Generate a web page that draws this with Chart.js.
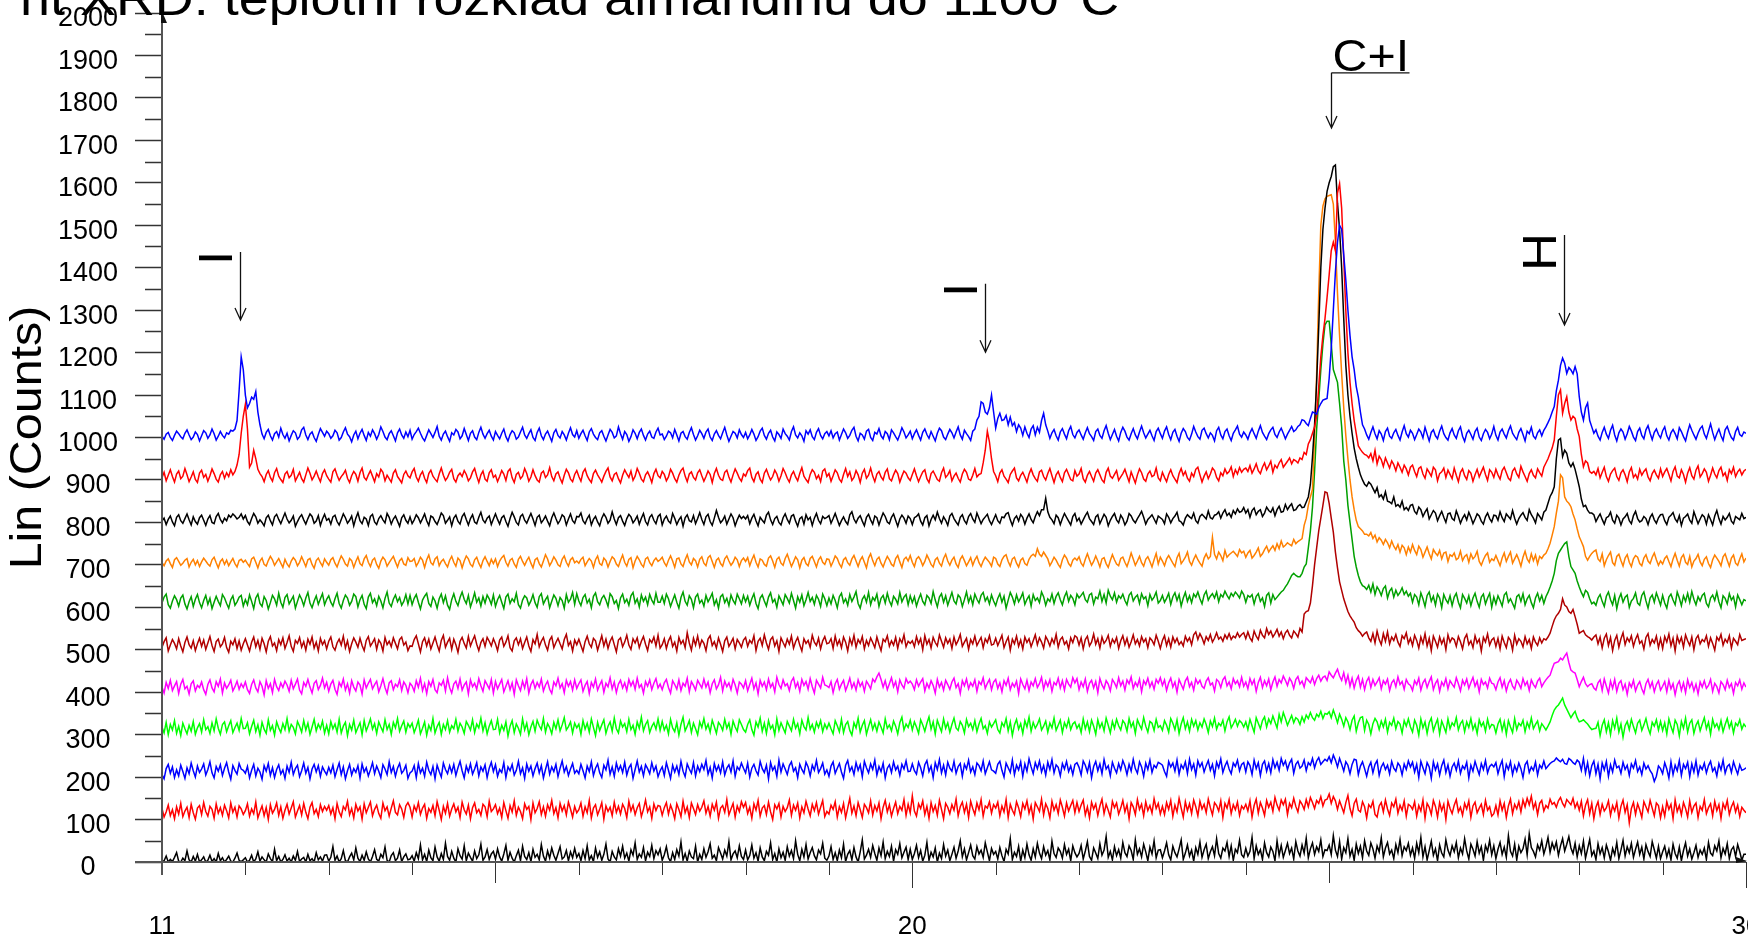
<!DOCTYPE html>
<html>
<head>
<meta charset="utf-8">
<script src="https://cdn.jsdelivr.net/npm/chart.js@4.4.0/dist/chart.umd.min.js"></script>
<style>
html,body{margin:0;padding:0;background:#fff;overflow:hidden}
canvas{display:block}
</style>
</head>
<body>
<canvas id="xrd" width="1748" height="937"></canvas>
<script>
// Scan settings: 2θ from 11° to 30° in 0.025° steps
const start2Theta = 11;
const step2Theta = 0.025;

// Baseline offsets of the stacked patterns (counts)
const baselines = [1000, 900, 800, 700, 600, 500, 400, 300, 200, 100, 0];
const lineColors = ['#0000ff', '#ff0000', '#000000', '#ff8000', '#00a000', '#b00000', '#ff00ff', '#00ff00', '#0000ff', '#ff0000', '#000000'];

// Counts above each baseline, one row per degree of 2θ (40 steps)
const counts1000 = [
3,-4,8,12,0,-7,5,15,9,2,-3,10,18,6,-5,1,13,7,-8,4,16,11,-2,6,20,9,-6,3,14,5,-1,11,8,17,15,20,40,110,190,160,
100,70,80,95,90,108,60,30,8,-3,12,19,4,-6,9,14,1,22,7,-2,10,-8,5,16,11,-4,2,18,24,6,-5,8,13,0,-9,7,21,12,3,15,
9,-2,4,17,11,-6,0,13,23,8,2,-10,6,15,-3,10,19,5,-7,12,3,18,9,-4,7,25,14,1,-5,9,16,4,-8,11,20,6,-2,13,2,17,
-4,7,14,22,10,-1,-8,5,18,9,0,12,26,3,-6,8,15,2,-9,11,6,19,13,-3,4,21,7,-7,10,16,1,-5,12,24,8,-2,9,17,3,-6,
14,5,-3,10,20,2,-8,7,16,11,-4,1,13,24,6,-2,9,18,0,-7,12,22,4,-5,8,15,3,-9,11,19,5,-1,14,6,-6,10,23,7,1,16,
-2,9,17,4,-7,13,21,8,0,-5,11,16,3,-8,6,19,12,-1,4,25,9,-4,14,7,-9,2,18,10,-3,12,20,5,-6,8,15,1,-2,13,22,6,
8,-5,3,15,11,-1,19,6,-8,10,14,2,-4,12,23,7,-6,4,17,9,-2,13,20,1,-7,8,16,5,-3,11,24,6,-9,3,14,10,-1,18,7,0,
12,-3,6,19,8,-7,2,15,22,5,-4,10,17,1,-8,13,7,-2,20,9,3,-6,14,25,6,-1,11,4,-9,16,8,18,2,-5,12,21,5,-3,9,14,
4,16,-1,9,13,-6,7,20,11,-2,5,17,24,3,-8,10,6,-4,15,19,0,-7,12,8,21,4,-3,14,9,-5,18,11,2,-6,7,23,13,-1,6,15,
-3,9,18,5,-6,12,20,7,-2,14,3,-8,10,22,16,1,-5,8,19,11,-1,13,25,6,-4,17,9,2,-7,15,20,41,50,84,80,60,55,70,100,60,
22,45,57,40,42,52,30,48,28,35,14,30,22,5,25,10,0,20,28,6,24,12,40,57,30,15,-2,11,19,4,-6,13,21,8,-3,16,26,7,-1,12,
18,6,-4,11,23,9,2,-7,14,20,5,-2,16,28,10,-5,7,19,3,-8,12,24,15,1,-6,9,21,6,-3,13,27,11,-1,8,17,4,-7,14,22,9,
-2,15,25,7,-5,12,19,3,-9,10,21,14,0,-6,8,26,13,2,-4,17,22,9,-1,11,5,-8,16,24,6,-3,14,20,4,-7,10,18,27,8,1,13,
6,-4,11,21,9,-2,15,28,12,3,-5,9,18,24,7,0,13,22,10,-3,8,17,26,14,18,26,30,42,40,33,28,45,60,58,55,70,80,88,90,92,
139,210,300,390,460,500,490,430,370,300,240,190,160,120,95,60,30,20,6,-4,12,25,9,-3,16,8,-7,14,22,3,-2,11,19,5,-6,13,28,9,1,17,
10,-5,7,20,13,-1,24,8,-8,12,18,4,-3,15,27,9,0,-6,11,21,6,-2,16,25,3,-9,10,17,7,-4,14,22,1,-7,9,19,12,-3,8,26,
5,-6,13,20,8,-1,16,27,10,2,-5,12,21,7,-8,15,9,24,3,-3,11,18,4,17,25,35,46,60,73,110,135,170,187,175,151,165,159,150,167,150,
96,60,41,70,81,40,25,10,18,3,-6,12,24,8,-2,17,29,6,-8,11,20,13,-4,9,26,15,1,-7,14,22,5,-3,18,28,10,-5,12,20,7,-1,
16,25,4,-6,11,19,9,-3,23,14,2,-8,13,30,17,6,-4,10,21,27,8,-2,15,32,12,-5,9,20,4,-7,18,26,11,0,-6,14,24,7,3,13,
10];

const counts900 = [
5,18,-2,11,24,8,-5,14,21,3,9,27,12,-4,7,19,1,-6,16,23,6,13,-3,10,26,15,2,-5,12,20,4,17,8,24,12,20,35,60,110,150,
178,120,30,40,70,50,25,15,8,-4,13,22,6,-3,17,27,9,1,-6,14,20,5,11,25,-2,8,18,3,-5,12,28,16,0,9,21,7,-4,15,24,10,
2,-5,19,26,11,-1,8,14,23,4,-6,10,20,13,-3,17,28,6,0,12,22,9,-4,15,7,25,18,-2,11,3,-5,16,24,8,1,-7,13,21,10,5,
19,27,7,-3,12,20,4,-6,15,23,9,2,-4,14,28,11,-1,6,18,25,3,-5,10,16,8,22,13,-2,5,19,27,9,-6,12,21,2,-3,17,24,6,
11,-4,8,22,14,-1,20,26,5,-6,13,18,3,9,27,15,-3,7,24,10,0,-5,16,21,6,12,29,8,-2,14,19,4,-7,11,25,17,2,-4,13,22,
8,-3,18,26,10,1,-6,15,23,12,4,-5,9,20,28,7,-2,13,17,3,-7,11,24,14,6,21,-1,9,27,16,2,-4,12,19,8,-6,15,25,10,5,
20,13,-2,7,25,16,3,-5,11,22,28,9,-4,14,19,6,0,17,24,10,-3,8,21,13,-6,15,27,11,2,-1,18,23,7,-5,12,26,16,4,-3,14,
9,22,28,6,-4,13,19,2,-6,16,25,11,0,8,23,14,-3,10,27,17,4,-5,12,20,7,-2,15,29,9,1,-6,13,24,18,3,11,-4,21,26,8,
15,-3,10,24,17,2,-5,13,27,8,19,-1,6,22,12,-6,16,25,4,11,28,9,-4,14,20,7,0,18,26,3,-2,12,23,15,-5,9,21,16,5,-1,
13,26,10,-4,8,19,24,3,-6,15,21,11,1,-3,17,28,6,12,22,-2,9,16,4,-5,14,25,18,2,-1,11,27,7,13,15,40,70,115,90,50,20,
10,-4,16,24,9,2,-6,13,21,28,5,-2,11,18,7,-5,14,26,12,3,-3,19,23,8,0,15,27,10,-6,12,20,6,-4,17,25,13,1,-2,22,9,
14,27,3,-5,11,20,8,-3,16,24,12,0,-6,18,28,9,4,13,22,-1,7,15,25,10,-4,19,6,-7,12,26,17,2,-3,14,21,8,11,28,5,-2,
18,6,-4,13,24,10,2,-6,15,27,11,20,4,-3,16,8,25,30,12,-5,9,19,3,14,28,22,6,-2,17,10,26,15,20,31,8,24,14,29,18,25,
28,20,34,16,26,38,22,15,30,40,24,33,44,18,35,28,40,48,30,37,44,52,38,48,45,40,52,48,65,60,85,95,110,125,150,220,290,340,380,430,
483,540,560,540,676,698,640,520,398,300,230,180,140,110,80,72,65,60,58,52,62,45,70,38,56,48,32,52,40,28,45,36,22,40,30,18,35,26,12,30,
35,20,8,27,31,14,4,26,18,9,30,24,-2,15,19,28,6,23,13,3,28,11,-4,18,26,10,1,22,16,-3,12,25,7,19,30,13,-1,24,18,6,
25,12,2,22,30,17,4,-1,21,28,14,6,32,19,8,-3,15,24,11,5,26,17,9,30,40,50,63,75,94,150,200,212,157,180,196,160,141,150,145,120,
102,60,31,45,40,20,16,20,12,27,5,18,30,8,-3,14,22,28,8,-1,17,24,12,-4,19,29,6,13,2,25,11,20,26,7,-2,15,23,12,4,26,
8,19,27,13,-2,20,31,9,5,24,13,-5,16,29,10,2,23,33,7,15,26,18,-3,11,28,14,5,22,30,10,17,-1,24,15,30,8,19,25,12,21,
25];

const counts800 = [
3,10,-5,7,15,1,-8,12,18,4,-2,9,20,6,-6,13,2,-4,11,17,5,-7,8,16,0,-3,14,21,7,-1,10,4,17,12,20,15,8,12,20,8,
16,2,-5,9,21,13,-2,6,0,-8,11,17,4,-6,13,19,7,-3,10,22,8,-1,5,15,-9,2,12,18,6,-4,9,20,14,-2,3,16,-7,8,19,5,
9,-4,13,17,2,-6,7,20,11,-2,5,15,-8,10,23,4,-3,12,8,-7,14,19,1,-5,9,16,6,-1,21,12,-4,8,15,3,-9,11,18,5,-2,13,
-3,6,18,11,-1,9,20,4,-7,15,12,2,-5,8,22,16,-2,5,13,-8,10,17,3,-4,14,21,7,-6,9,18,1,-3,12,24,6,-1,10,15,-5,8,
20,7,-4,11,16,2,-9,9,24,13,0,-6,14,19,5,-2,10,21,8,-7,12,17,-1,6,15,3,-8,11,22,9,-3,5,18,13,-6,8,20,4,-2,14,
13,22,4,-3,9,17,-6,7,14,1,-8,10,20,12,-2,5,25,8,-5,11,16,3,-7,9,19,13,-1,6,15,-4,10,21,2,-6,12,18,5,-3,14,19,
-6,8,15,3,-2,21,10,-5,6,13,-9,11,18,4,1,16,-3,9,23,7,-5,13,19,2,-7,10,28,12,-1,5,15,-4,8,20,11,-8,6,17,9,14,
8,16,-3,10,19,4,-8,12,5,-1,17,24,6,-5,9,14,0,-6,11,20,7,-2,15,18,3,-9,9,13,-4,18,6,12,-7,10,21,5,-3,14,9,12,
16,-2,9,21,7,-7,4,13,2,-5,18,25,8,-1,10,16,3,-8,12,19,6,-4,15,11,-6,9,22,14,1,-3,12,20,5,-9,8,17,10,-2,15,9,
-5,11,14,20,3,-6,11,16,-8,7,17,6,24,9,-2,13,5,-7,15,21,9,1,-6,12,18,4,-3,14,21,8,0,22,10,-3,7,13,19,4,-5,7,
18,4,-2,13,11,20,23,6,-7,9,15,3,19,12,-4,10,20,7,-1,14,25,16,30,30,57,25,12,6,-3,17,11,-5,9,21,12,3,-6,14,21,3,
10,-4,6,16,24,9,2,-5,13,18,-3,8,19,12,-8,5,14,21,6,-1,17,9,-6,3,21,15,5,-1,9,17,26,12,-4,7,12,18,8,-2,15,11,
7,-3,20,12,-1,9,15,24,4,1,-6,10,18,13,9,22,4,-2,14,19,14,8,27,11,8,17,19,25,10,22,30,16,22,12,28,20,32,24,26,35,
22,30,12,28,34,18,26,30,14,22,36,28,24,34,16,30,38,24,26,42,30,38,44,28,30,38,42,35,36,48,60,90,154,230,330,460,600,690,740,780,
800,815,838,842,752,690,600,480,370,300,250,210,175,150,130,112,100,90,85,95,90,80,70,82,60,65,55,72,50,48,44,60,38,42,36,50,30,35,28,40,
42,26,20,36,30,14,24,32,8,18,28,22,4,16,26,12,0,20,22,9,5,27,14,-2,10,18,6,24,12,-3,8,20,15,3,-4,13,22,9,1,17,
16,5,25,11,2,20,14,8,28,10,-4,9,17,23,12,5,30,18,10,-1,21,14,6,24,29,45,61,70,84,150,194,198,155,170,163,140,131,140,125,105,
84,55,37,40,29,22,22,18,2,12,20,7,-4,11,14,24,5,-2,17,10,-6,8,13,21,4,-3,16,26,9,1,4,14,9,-5,12,20,6,-2,11,18,
19,4,-5,12,17,23,8,1,16,-7,10,14,20,5,-2,25,11,-3,8,18,13,-4,18,7,-6,15,28,9,-4,14,6,12,21,3,-3,14,10,6,21,9,
12];

const counts700 = [
5,-2,9,14,3,-6,12,17,8,-1,4,11,15,-5,6,13,0,10,-4,7,16,9,2,-3,12,18,5,-7,8,14,1,11,-2,7,15,3,-5,10,13,6,
11,3,-4,14,18,6,-7,9,16,1,-3,10,20,12,-1,7,15,4,-6,13,2,-5,9,17,11,-2,6,19,8,-4,12,15,1,-8,10,16,5,-3,14,6,
-1,12,17,4,-5,9,21,13,2,-3,15,10,-6,8,19,3,-2,14,22,6,-4,11,16,1,-8,9,18,12,-3,5,13,20,7,-5,10,15,2,-1,17,8,
9,15,-3,6,18,11,-6,12,23,5,0,14,19,-2,8,13,3,-5,11,20,6,-3,16,10,-7,9,21,14,1,-4,12,18,4,-6,10,19,8,-2,13,3,
14,-4,9,17,22,6,-3,11,15,2,-6,13,20,8,-1,10,18,4,-7,12,16,3,-5,9,24,14,-2,7,19,11,0,-4,13,21,6,-3,12,17,5,9,
4,13,18,-2,7,15,9,-6,12,21,3,-1,16,10,-5,8,19,14,2,-4,11,23,6,-3,13,17,-7,9,20,12,1,-5,14,18,5,-2,10,16,8,12,
18,5,-3,11,21,9,-6,14,16,2,-4,12,24,7,0,15,10,-5,13,19,4,-2,17,22,8,-6,11,16,3,-3,14,21,9,-1,6,18,12,-4,10,16,
8,17,-2,12,23,6,-5,14,11,1,-3,16,21,9,-6,13,18,4,-1,15,25,10,-4,7,19,12,-7,11,17,3,-2,15,20,8,-5,12,19,6,1,14,
13,-3,8,21,15,2,-6,12,17,5,-1,14,22,9,-4,11,19,6,-7,16,26,10,-2,13,18,4,-5,9,20,12,1,-3,15,22,7,-6,13,18,9,22,
6,-4,14,19,11,-2,8,23,13,1,-5,12,17,4,-3,15,25,9,-1,11,18,2,-6,13,21,10,-2,7,17,-1,12,20,5,-4,9,18,12,6,-3,18,
15,2,-4,12,20,24,8,-3,14,18,4,-5,11,16,3,-1,13,21,25,20,38,25,20,30,22,14,-2,7,18,11,1,-6,12,23,16,3,-3,11,16,11,
19,4,-3,13,26,12,-1,8,21,9,-5,14,17,3,-6,10,24,12,2,-2,15,18,6,-4,11,28,14,-1,9,20,5,-3,13,19,8,-5,12,27,2,18,
9,-2,14,22,13,4,-4,17,27,3,10,18,30,8,-1,13,23,12,4,-3,16,26,14,20,65,25,14,30,22,10,34,18,24,28,32,26,20,36,28,32,
18,28,34,16,22,30,40,20,26,36,44,30,38,45,34,50,38,56,42,46,52,48,45,60,50,55,58,62,93,110,140,160,178,300,450,640,800,845,862,868,
870,872,850,760,640,540,450,370,304,250,200,160,130,105,90,85,80,72,72,68,76,62,70,54,64,58,48,60,52,40,56,44,36,48,30,46,40,24,42,30,
48,34,24,44,36,18,30,42,26,14,36,28,22,34,14,28,30,8,24,20,28,12,16,32,10,20,24,6,26,14,20,32,8,-1,12,22,28,6,14,10,
22,10,-2,16,28,8,20,30,4,14,24,12,-3,18,32,14,6,26,10,23,2,20,15,23,27,38,51,70,90,122,150,212,205,160,150,145,137,120,106,85,
66,55,43,20,11,20,27,32,35,14,8,26,-2,12,22,30,5,-1,20,25,10,-3,16,24,6,-4,14,22,18,3,-2,16,24,9,3,18,28,12,-1,9,
2,15,21,8,-4,14,27,11,-3,17,24,6,1,20,-5,9,15,25,7,-2,13,19,3,-6,12,23,16,8,-2,19,26,11,-3,16,23,4,-1,14,26,7,
16];

const counts600 = [
10,24,31,6,-2,15,27,18,3,22,29,8,-4,13,25,2,19,30,11,-1,16,28,7,21,-3,12,26,14,4,30,22,9,-2,18,27,5,13,24,28,3,
18,6,29,14,-3,22,31,9,2,25,16,-4,11,28,20,5,33,12,0,23,30,8,17,26,-2,14,29,19,4,22,35,10,-1,15,27,7,20,32,6,19,
27,12,3,20,33,9,-2,16,29,22,5,14,31,25,1,18,28,7,-3,24,33,11,20,4,26,15,-1,21,36,10,2,19,29,13,23,5,14,30,8,28,
6,21,30,12,-4,17,26,33,9,2,24,15,-2,20,31,11,27,5,-5,18,32,14,4,23,36,19,9,28,1,16,34,12,22,3,25,10,29,20,7,29,
2,18,28,12,-3,24,31,9,20,13,33,6,-2,17,27,22,5,15,30,11,0,25,32,8,18,26,-1,14,29,21,4,23,16,-2,30,12,19,35,7,32,
15,4,23,30,10,19,-1,26,34,13,6,21,28,17,2,32,25,9,16,-3,22,31,11,19,5,27,35,10,20,1,29,14,24,6,30,17,8,33,12,12,
26,9,31,20,2,16,29,12,-2,23,36,14,5,27,19,-1,24,31,10,17,3,28,13,22,33,6,18,-2,25,30,11,21,4,29,16,8,31,20,8,28,
13,26,5,20,32,9,-3,22,29,15,3,24,34,12,19,0,27,17,6,30,21,10,33,16,-2,25,12,29,4,18,35,14,23,7,28,19,2,31,20,4,
22,8,28,16,-1,25,33,11,20,5,30,14,24,37,9,-2,19,27,12,35,6,23,16,31,2,21,28,10,33,15,4,26,19,8,35,13,24,30,6,27,
11,25,3,19,31,14,6,28,22,9,37,17,1,24,32,12,27,5,20,35,15,8,29,23,2,18,36,12,26,6,31,19,10,28,35,15,24,8,29,15,
4,21,32,12,26,-2,17,35,24,8,29,13,22,34,7,19,27,3,30,16,22,11,36,25,5,20,14,31,9,26,34,18,6,25,36,14,28,21,6,31,
22,28,35,18,12,29,33,8,24,20,38,14,30,10,40,26,18,34,12,27,21,31,16,6,28,35,15,24,29,9,32,20,25,4,30,17,24,36,10,16,
28,12,21,33,7,25,34,16,30,3,22,35,14,27,11,31,24,36,20,8,29,38,17,26,32,22,36,13,30,24,38,28,20,33,26,36,30,22,38,30,
12,28,24,30,8,26,32,14,22,2,28,34,10,30,18,24,30,36,40,48,55,65,75,80,75,72,72,80,95,102,140,180,236,320,420,488,560,620,665,674,
674,620,560,545,530,480,425,345,300,240,200,160,120,95,75,60,51,48,42,52,36,55,30,48,40,28,44,50,22,38,45,24,40,28,35,46,30,38,26,33,
12,30,24,6,34,20,2,28,36,14,26,5,31,22,-1,30,18,10,27,4,24,33,12,-1,30,21,10,27,4,22,33,14,0,24,31,8,22,33,0,24,
8,27,16,3,29,35,12,20,9,-2,25,30,14,32,6,20,28,11,-1,22,33,15,28,9,25,35,48,62,80,110,127,135,143,150,154,120,96,88,80,62,
48,35,25,40,35,20,8,12,5,22,30,14,2,26,36,18,6,28,-3,20,32,12,24,29,0,15,21,34,10,5,28,36,15,-2,22,29,12,34,20,5,
28,10,-2,24,31,17,6,36,22,4,27,14,33,12,37,19,6,25,15,28,33,9,1,22,29,16,36,13,-1,27,21,8,32,17,25,1,29,18,6,18,
15];

const counts500 = [
6,19,28,-3,11,24,15,2,26,9,-5,17,30,12,4,21,-2,14,27,8,23,1,16,31,10,-4,19,25,7,14,29,5,-6,20,12,26,3,21,-1,14,
26,11,-3,18,30,7,22,1,27,14,-5,20,31,9,16,-2,24,12,28,3,17,33,8,-4,22,15,29,6,19,-1,25,13,30,4,18,-3,27,12,21,2,
20,30,7,-1,16,25,11,32,4,21,-4,14,28,18,6,27,10,-2,22,31,9,17,26,1,23,15,-3,29,12,20,7,28,15,2,24,30,11,18,-2,9,
8,24,33,14,-5,19,28,9,25,2,16,30,12,-3,22,34,6,18,27,1,25,12,-6,20,29,15,4,31,9,22,33,13,-2,17,26,8,29,20,9,26,
14,-2,23,30,8,18,33,5,-3,21,28,12,26,3,17,30,9,-4,24,14,36,7,20,29,11,-1,23,31,5,17,27,14,2,24,36,10,19,-3,23,12,
25,10,-4,19,32,14,6,27,21,-1,16,33,9,25,3,20,30,12,-5,23,28,7,18,34,11,1,26,16,28,5,20,31,13,-2,24,17,30,9,34,4,
12,26,3,21,31,8,18,-3,29,14,22,5,40,16,-1,27,11,32,7,23,15,-2,25,33,10,19,4,28,13,-4,21,30,8,17,27,2,24,16,6,23,
29,8,22,15,33,-2,20,27,10,35,16,1,24,30,9,21,-4,28,17,7,25,13,32,4,19,29,11,-3,26,15,22,6,34,18,10,27,2,21,31,14,
16,26,3,32,11,23,5,30,18,-3,27,12,34,6,24,15,31,2,22,10,28,17,5,30,13,-2,25,19,33,8,21,11,29,3,26,16,35,7,20,15,
21,7,31,14,26,0,33,13,24,4,29,17,9,35,20,6,28,15,25,3,30,12,22,36,8,18,27,1,24,14,32,10,20,29,5,26,17,33,11,13,
27,10,22,34,5,19,30,-1,25,14,32,8,23,2,30,17,26,7,21,35,12,28,18,4,31,22,9,26,15,36,6,24,30,13,20,2,28,17,33,29,
11,28,2,24,32,9,18,37,13,26,4,30,15,22,34,8,25,16,29,3,21,33,12,27,6,19,35,14,24,9,31,18,26,5,28,22,12,34,20,3,
22,33,10,26,6,30,17,27,12,19,9,32,20,28,12,35,42,24,38,28,14,31,22,36,18,27,40,25,30,20,35,26,38,24,32,28,40,30,36,40,
26,42,28,20,44,32,24,46,34,28,50,36,44,30,38,48,32,42,26,40,46,34,28,44,38,30,50,42,84,90,92,110,151,200,240,280,310,340,372,370,
345,310,277,230,193,160,140,120,105,90,80,72,65,52,45,40,32,38,42,28,20,38,16,44,24,12,38,20,42,14,30,22,36,18,8,33,26,40,15,27,
10,34,22,4,30,15,38,9,27,-2,32,20,6,30,14,26,0,35,18,28,24,8,31,19,2,27,36,12,21,5,33,16,25,-3,29,18,37,11,23,28,
8,27,2,32,17,5,29,22,-1,34,13,26,20,7,31,14,24,3,30,18,10,28,16,26,23,30,39,55,70,80,86,95,120,105,101,90,86,95,78,60,
39,42,45,35,31,28,23,30,35,14,30,4,27,37,10,29,-2,22,34,6,26,40,12,28,19,33,8,25,36,15,21,2,29,38,11,24,16,32,5,26,
3,31,18,37,9,27,-3,32,16,29,6,35,21,10,30,0,26,34,14,24,19,33,8,28,15,-1,30,22,36,11,25,17,33,4,27,20,12,36,22,24,
26];

const counts400 = [
12,-2,23,9,28,4,15,25,-3,19,30,8,14,-4,20,27,3,16,11,24,6,-5,18,29,10,1,25,14,31,-2,22,9,17,28,3,13,26,7,20,11,
24,6,-3,18,29,10,1,25,14,-6,27,9,20,-1,30,13,4,22,11,26,17,2,28,8,19,31,5,-4,23,14,30,12,-2,21,27,6,16,33,10,23,
2,19,28,7,-5,23,13,31,5,20,-2,27,12,3,24,17,-4,29,10,21,30,8,18,26,1,15,32,11,-3,22,27,6,19,13,29,4,24,16,-1,21,
15,2,27,12,33,4,20,-3,25,14,30,6,-1,22,16,28,3,34,11,-2,19,26,9,31,5,17,24,-4,29,13,21,7,32,15,2,27,18,8,30,-2,
25,8,19,30,1,14,27,6,22,-5,29,15,4,26,10,32,-2,18,28,9,23,12,31,3,17,26,7,-3,24,15,33,10,20,-1,28,14,25,5,29,9,
20,29,2,16,25,-3,23,12,31,5,17,27,0,21,13,34,8,24,-1,19,28,10,22,4,30,15,26,7,33,11,18,-2,25,14,29,6,21,32,10,19,
6,22,30,11,-2,27,18,7,29,4,21,14,33,1,25,16,5,28,19,10,31,12,24,-1,20,29,8,17,35,3,26,13,22,6,30,17,-2,24,19,10,
27,3,18,33,8,22,-4,28,14,24,6,31,12,21,1,35,18,9,29,15,20,4,26,34,11,23,2,30,16,25,7,32,13,-2,28,19,10,35,17,15,
11,25,-1,20,30,7,19,28,4,17,33,10,22,5,29,14,23,2,26,18,8,31,24,36,45,30,12,27,6,20,34,13,25,1,29,17,9,32,21,26,
19,6,29,14,24,32,3,21,10,27,16,-2,30,12,23,5,28,18,7,24,33,11,20,-3,27,15,31,8,22,14,29,2,25,18,34,9,21,30,6,24,
30,9,22,1,27,16,33,6,21,13,26,-3,31,18,8,28,4,24,15,32,11,20,35,7,26,14,29,2,23,17,33,10,27,5,30,19,12,34,22,32,
6,24,13,31,2,21,28,10,25,-1,32,17,8,27,19,3,30,22,11,34,15,26,5,29,20,36,9,23,14,31,1,27,18,33,12,24,7,30,21,34,
16,29,4,22,33,12,24,0,30,18,7,27,35,13,23,5,31,20,28,14,9,26,34,17,22,3,30,25,11,29,36,15,24,8,32,20,27,13,35,14,
24,8,32,18,29,2,23,35,11,27,15,31,6,24,36,14,30,22,38,28,16,33,25,9,30,37,19,26,12,34,28,22,36,18,32,40,26,35,38,28,
48,40,34,45,54,38,28,46,22,40,14,33,10,28,38,12,30,6,26,35,11,30,16,24,34,8,27,19,31,4,22,29,13,36,18,25,7,30,20,16,
4,27,18,33,5,22,30,11,25,36,6,21,29,2,24,15,32,8,27,19,12,34,20,3,28,17,31,9,23,35,14,26,1,30,18,24,10,33,21,19,
6,24,34,12,27,3,21,30,14,7,28,20,9,32,16,25,4,29,18,11,26,33,13,22,29,35,40,55,68,70,72,80,76,85,92,70,52,48,45,30,
13,25,35,20,13,18,20,10,5,22,29,4,31,14,-2,26,9,30,2,21,27,6,19,-5,22,12,28,3,17,25,8,-3,20,30,11,24,1,18,27,5,
14,25,1,28,8,20,-6,17,26,4,22,-1,29,11,23,3,19,-4,24,12,27,9,16,30,2,21,13,-2,25,18,6,28,11,20,-3,23,15,29,7,22,
12];

const counts300 = [
18,4,29,0,24,11,33,3,20,-2,27,14,2,22,8,31,1,16,26,6,35,12,19,3,28,9,37,15,1,24,30,7,21,33,5,17,27,10,38,14,
15,28,2,19,34,7,23,-1,29,13,3,35,10,21,-1,30,16,5,26,12,38,8,24,17,2,31,20,6,33,11,27,1,18,36,9,25,14,32,4,22,
2,31,14,25,6,36,4,20,29,-2,24,11,34,5,17,28,0,33,9,22,37,13,26,3,30,18,7,35,12,24,1,29,16,38,8,21,32,6,26,17,
27,5,18,34,2,15,30,-1,22,10,38,4,19,29,1,24,12,33,6,21,14,36,8,27,18,3,31,22,11,35,5,25,16,39,9,28,2,20,33,12,
13,36,4,22,10,30,-3,20,33,5,25,15,1,37,11,27,0,18,31,8,34,21,12,38,6,26,17,2,29,14,35,9,23,40,11,19,30,4,27,16,
25,1,33,13,27,6,37,17,-2,29,10,23,35,3,20,30,8,39,14,4,32,18,26,7,36,12,22,1,30,15,41,9,24,33,5,19,28,13,37,10,
31,11,22,2,36,16,7,28,-1,24,41,9,20,33,5,27,14,0,30,17,38,13,25,6,34,19,3,29,22,10,36,15,27,1,32,18,8,35,24,12,
6,24,35,12,-1,30,18,39,8,27,3,33,14,22,0,37,10,28,16,4,31,20,9,36,15,26,2,34,19,11,40,13,24,6,29,17,33,7,25,14,
27,14,2,33,21,7,36,5,24,31,10,-1,28,16,39,6,22,33,1,19,35,12,26,8,30,18,4,37,15,23,9,32,20,2,28,41,11,25,17,34,
11,30,18,3,35,23,8,27,42,13,30,2,34,20,7,37,15,28,6,24,39,16,10,31,22,4,36,19,27,12,33,7,25,38,14,21,3,30,18,26,
35,12,4,28,19,38,9,30,-2,23,36,13,26,3,33,18,41,8,29,15,24,37,11,20,32,6,27,16,39,10,22,34,5,28,17,36,12,25,30,15,
24,5,37,14,30,7,34,20,1,35,16,28,9,39,22,4,31,15,36,21,11,33,26,8,38,18,29,3,35,23,13,40,20,6,31,27,10,36,17,21,
10,33,22,6,38,27,12,35,3,25,40,14,30,8,36,20,33,11,28,18,37,24,5,32,19,39,13,27,21,34,9,30,42,16,25,36,20,33,28,18,
30,12,36,21,6,40,27,14,33,42,18,37,26,44,30,16,48,30,52,38,22,34,45,28,40,36,24,42,30,46,38,52,40,34,48,42,55,38,50,48,
54,40,58,44,28,48,36,20,40,30,12,34,44,8,28,40,42,10,34,24,2,26,38,30,12,32,18,36,6,29,22,39,14,31,25,4,33,20,37,18,
6,34,22,-1,37,16,30,3,28,39,9,24,36,2,32,19,5,37,14,28,21,40,11,26,33,7,30,17,38,12,25,3,35,20,29,8,36,15,24,22,
4,25,36,10,30,1,33,18,5,38,12,27,21,34,7,29,16,39,14,24,32,9,26,19,11,20,30,45,58,65,70,78,86,70,60,50,40,48,55,40,
30,32,35,30,25,18,12,14,15,29,-2,22,35,7,28,0,33,15,39,6,25,-6,21,31,12,36,19,4,27,34,10,23,38,16,2,29,20,35,11,31,
10,28,2,37,19,5,34,24,-3,31,15,39,6,27,35,3,22,32,9,25,40,14,29,1,36,18,26,12,33,7,24,38,16,30,4,27,21,35,13,25,
18];

const counts200 = [
6,-4,20,30,9,24,-1,17,3,28,13,-3,22,8,33,15,0,26,11,19,31,5,18,36,10,-2,25,14,29,4,21,34,12,-5,27,16,7,32,19,16,
9,25,-2,16,30,3,21,12,-5,27,14,32,4,22,-1,18,29,7,17,-3,26,11,35,6,20,28,1,15,33,9,23,-4,19,30,12,27,2,24,14,6,
23,10,28,1,18,33,6,24,-4,15,30,5,20,11,27,-2,31,12,22,3,17,34,8,26,14,-1,29,19,6,36,11,25,2,21,32,9,16,28,-3,10,
14,27,-1,32,10,21,2,35,16,6,25,-4,28,13,0,33,18,8,27,11,30,4,22,37,15,-2,26,12,31,7,19,34,3,24,14,29,-1,21,35,13,
29,2,18,11,34,-1,24,15,30,5,16,37,8,22,-3,31,14,26,3,20,33,10,27,-2,18,36,7,24,13,30,1,21,38,12,25,4,19,32,9,16,
8,30,15,-2,26,13,36,4,21,31,10,-1,28,17,40,7,24,2,33,15,27,11,35,5,22,30,-3,18,38,12,25,3,29,20,8,34,14,26,1,15,
24,4,34,16,-3,28,12,26,6,37,14,1,31,19,9,34,3,26,13,30,18,39,7,23,-2,32,15,27,10,36,5,21,29,12,38,2,24,17,33,21,
10,33,0,21,30,15,5,37,20,11,28,-4,34,16,25,2,40,12,31,19,6,27,36,14,22,-1,30,18,9,35,24,3,28,16,39,11,20,33,7,17,
2,26,36,9,21,32,12,-3,28,39,14,24,6,34,16,29,1,37,22,10,31,18,40,5,25,13,33,-2,21,29,11,36,17,26,4,30,19,38,13,14,
31,15,7,35,22,3,29,39,13,26,-1,34,18,41,10,28,5,35,21,14,37,9,25,32,2,30,19,40,12,24,6,33,27,15,38,8,22,36,17,14,
9,30,37,16,0,33,22,11,40,6,28,17,36,2,31,14,43,24,8,34,20,38,12,27,5,35,18,41,10,29,23,3,32,19,37,13,26,6,30,34,
23,5,38,28,12,34,-1,25,37,15,31,8,41,19,27,3,35,21,10,32,17,39,26,6,30,14,42,20,9,36,24,2,33,18,40,11,28,22,35,32,
28,13,2,37,24,33,14,40,7,29,20,36,9,42,18,31,5,38,24,34,12,27,39,16,30,3,35,22,43,11,26,37,19,8,33,25,40,15,30,34,
12,36,27,6,40,20,34,4,30,38,14,32,10,41,22,35,16,44,28,38,18,33,42,9,30,37,21,26,40,15,34,28,44,22,38,46,30,36,42,38,
48,34,52,40,24,44,30,14,36,28,8,30,42,40,6,26,36,20,2,24,35,10,30,39,4,24,33,18,28,8,37,21,14,33,26,5,31,18,38,24,
35,12,30,-1,37,22,8,34,24,-3,36,17,31,5,27,40,11,29,2,24,33,16,38,9,26,19,35,-2,28,14,37,21,6,32,18,39,10,25,30,24,
34,8,26,39,1,30,18,36,6,27,14,33,20,-1,29,37,11,24,16,35,5,28,21,38,20,26,32,36,38,45,40,36,42,32,30,44,40,34,30,40,
35,16,44,10,34,3,27,38,8,30,-4,33,17,37,2,29,12,40,22,26,9,35,18,28,4,31,21,39,13,24,6,33,19,27,15,8,-10,2,26,20,
8,34,19,-2,36,6,28,15,39,4,30,20,35,1,31,12,38,5,26,18,33,10,27,37,14,22,3,32,17,40,9,25,30,11,36,21,7,29,16,18,
22];

const counts100 = [
26,6,18,34,9,23,2,30,13,38,7,20,29,5,36,16,1,27,33,12,40,19,8,31,24,3,37,15,28,10,34,21,4,39,17,29,6,32,25,12,
21,37,8,25,14,41,4,19,32,9,28,0,35,15,24,39,10,30,3,22,36,13,27,42,6,20,33,11,38,17,2,29,40,14,24,7,35,19,31,22,
33,13,28,2,38,18,7,31,23,43,11,26,4,36,20,30,1,37,16,29,41,9,24,34,14,3,39,21,30,8,27,44,17,11,35,25,5,32,40,29,
6,32,20,40,12,27,36,3,26,17,33,9,42,22,0,31,15,38,8,25,37,18,29,5,41,23,13,34,2,28,39,16,24,10,36,30,7,43,19,25,
35,14,27,5,40,21,3,33,18,44,10,29,19,2,37,24,31,0,39,16,26,42,12,30,8,35,22,45,14,28,4,38,20,33,11,41,25,6,31,16,
23,39,8,30,16,45,4,27,35,11,24,40,1,32,19,29,9,41,17,31,13,36,26,5,43,20,34,12,28,38,7,24,46,18,30,3,37,21,33,31,
10,28,40,13,34,21,2,37,24,7,43,16,30,5,39,26,12,35,20,29,44,15,31,8,36,22,41,3,27,33,17,47,11,25,38,6,32,19,42,29,
40,14,29,3,37,22,45,8,27,33,12,41,18,0,35,25,38,6,31,19,28,46,10,34,22,39,4,30,16,43,25,9,36,21,40,13,29,45,7,19,
13,34,24,42,6,30,17,38,4,27,50,15,32,9,40,23,5,36,28,16,44,11,33,20,39,2,29,45,18,35,8,26,41,14,31,22,47,10,36,16,
56,20,8,37,26,44,12,31,3,40,19,33,10,45,24,2,38,29,14,35,22,48,9,30,41,17,36,5,43,26,12,39,23,47,8,32,27,42,15,35,
27,41,9,32,18,47,5,36,22,12,42,28,7,38,25,44,15,33,1,40,30,19,48,11,37,26,4,43,22,35,14,46,29,8,39,20,33,45,16,40,
19,34,46,11,30,4,41,25,37,10,32,48,14,36,22,6,43,28,39,13,27,45,18,35,2,40,30,12,47,24,36,9,42,21,33,15,49,26,38,13,
31,12,40,24,45,8,34,18,50,27,6,42,21,37,14,46,30,9,43,25,36,16,48,28,11,40,33,20,44,5,38,27,47,14,35,23,41,10,32,25,
36,20,44,6,33,48,15,40,27,10,45,29,41,19,52,34,22,46,35,48,12,38,28,50,31,18,44,36,24,47,30,52,40,26,45,38,54,32,46,48,
60,38,54,44,24,44,30,16,40,57,26,9,38,48,22,18,42,30,4,35,28,43,12,6,32,40,18,46,25,10,39,30,48,15,34,22,44,8,36,32,
24,42,8,33,20,46,3,38,29,12,45,31,6,40,21,36,0,43,26,14,34,47,18,29,10,38,25,44,5,32,41,16,27,36,12,45,22,30,8,14,
33,11,44,22,38,5,32,48,14,36,25,42,18,46,30,50,35,55,26,40,12,38,45,20,33,27,48,36,40,29,44,52,38,30,47,41,35,50,28,40,
22,43,9,34,47,14,38,2,29,42,12,36,20,28,44,10,33,20,40,4,31,46,17,35,-8,26,40,12,37,23,5,42,30,18,45,27,9,39,33,4,
30,8,42,24,36,2,46,19,33,11,40,26,6,44,17,32,39,5,31,22,47,14,28,37,9,43,21,35,3,38,25,45,12,30,41,18,34,7,29,22,
16];

const counts0 = [
0,3,14,0,6,1,11,22,2,0,9,3,26,5,0,13,2,18,0,5,12,0,4,16,1,8,0,20,3,10,0,6,14,2,0,9,21,4,1,5,
10,0,4,16,0,7,24,2,12,5,0,19,8,1,30,3,13,0,6,17,2,9,0,14,4,25,1,7,11,0,18,3,8,0,22,5,12,2,16,17,
2,11,36,4,14,0,8,27,3,0,12,21,5,33,9,1,16,4,24,7,0,13,29,6,2,18,10,35,4,0,15,22,3,9,28,1,12,19,5,7,
15,2,22,8,40,5,18,1,28,10,3,35,12,2,20,6,44,13,4,25,9,0,31,15,7,38,3,21,11,2,26,8,17,42,4,12,29,6,19,25,
7,31,12,2,19,39,4,23,9,0,15,28,3,37,13,6,22,1,30,11,18,5,41,14,2,26,9,33,16,4,20,36,7,12,27,3,24,10,32,11,
20,3,27,8,38,5,15,1,33,11,24,4,18,42,7,0,25,12,5,31,14,37,9,21,2,29,16,45,6,19,11,34,3,23,13,39,8,27,17,31,
4,17,36,10,1,22,6,29,14,47,5,20,2,26,12,8,37,0,18,6,31,11,24,43,9,16,3,34,21,7,28,14,48,5,19,26,10,38,13,6,
28,5,15,40,9,22,2,33,12,3,25,16,45,6,20,0,31,10,23,4,36,14,27,8,50,18,3,30,12,41,7,22,34,15,5,28,19,44,9,4,
14,36,6,22,3,28,10,42,1,18,27,5,34,12,0,24,52,7,16,30,11,39,20,4,33,15,47,8,25,13,37,2,29,18,43,10,23,35,6,30,
6,20,39,10,27,2,16,46,4,23,12,33,0,21,8,41,14,28,3,18,35,9,26,50,12,31,5,22,40,15,7,36,19,28,11,45,24,3,32,18,
25,7,34,15,1,30,19,55,6,23,13,37,2,28,10,42,17,4,31,12,44,21,8,36,16,27,5,49,20,11,33,25,9,41,18,30,3,38,22,12,
20,39,7,26,48,13,4,33,21,8,43,16,28,60,11,25,5,36,15,29,9,46,22,13,38,27,6,52,18,31,12,42,24,3,35,19,50,10,28,29,
10,26,45,17,5,37,22,12,31,52,6,21,40,14,28,2,34,18,47,11,29,42,8,24,36,15,55,20,9,33,26,46,13,38,4,30,22,51,17,11,
32,14,25,58,8,38,18,29,6,45,22,12,35,25,3,50,16,39,11,27,44,20,33,7,48,26,14,40,21,56,10,31,45,18,36,25,52,13,29,27,
40,18,62,28,13,48,7,34,22,55,14,30,4,42,20,37,10,50,26,16,45,31,9,38,24,57,12,33,46,19,28,8,41,22,53,15,36,27,44,16,
33,9,44,22,58,12,36,5,27,49,16,31,3,40,21,12,52,28,15,38,24,46,10,33,19,55,26,7,42,30,14,48,21,36,4,39,25,51,17,38,
8,30,46,18,35,11,62,25,14,42,5,37,22,31,54,17,66,34,25,12,40,28,50,19,36,58,23,45,30,47,16,38,55,26,42,60,33,20,44,12,
38,20,49,9,31,53,15,26,6,43,19,34,10,40,24,4,32,17,46,8,28,51,14,36,22,44,11,30,47,18,35,7,41,25,13,48,29,9,37,8,
24,37,12,30,5,42,20,9,35,3,27,45,14,31,7,22,39,11,28,18,33,6,46,21,15,38,26,50,10,32,19,43,8,29,36,13,41,24,4,18,
18];

const patterns = [counts1000, counts900, counts800, counts700, counts600, counts500, counts400, counts300, counts200, counts100, counts0];

// Axis ticks
const yTickStep = 100;
const xTickLabels = [11, 20, 30];

// Reflection markers: label, 2θ, arrow start and arrow tip (counts)
const markLabels = ['I', 'I', 'C+I', 'H'];
const markAngles = [11.93, 20.87, 25.02, 27.82];
const markFrom = [1437, 1362, 1859, 1477];
const markTo = [1277, 1201, 1729, 1265];

const titleText = 'ht XRD: teplotní rozklad almandinu do 1100°C';
const yTitleText = 'Lin (Counts)';

const FONT = "'Liberation Sans', Arial, Helvetica, sans-serif";
Chart.defaults.font.family = FONT;
Chart.defaults.color = '#000';

const datasets = patterns.map((arr, k) => ({
  data: arr.map((c, i) => ({ x: start2Theta + i * step2Theta, y: baselines[k] + c })),
  borderColor: lineColors[k],
  borderWidth: 1.5,
  pointRadius: 0,
  tension: 0,
  fill: false
}));

function wideText(ctx, text, x, y, size, angle, align) {
  ctx.save();
  ctx.translate(x, y);
  if (angle) ctx.rotate(angle);
  ctx.scale(1.1, 1);
  ctx.font = size + 'px ' + FONT;
  ctx.fillStyle = '#000';
  ctx.textAlign = align;
  ctx.textBaseline = 'alphabetic';
  ctx.fillText(text, 0, 0);
  ctx.restore();
}

const frame = {
  id: 'frame',
  afterDraw(chart) {
    const { ctx, chartArea: a } = chart;
    const xs = chart.scales.x, ys = chart.scales.y;
    ctx.save();

    // minor ticks on the count axis
    ctx.strokeStyle = '#333';
    ctx.lineWidth = 1.5;
    ctx.beginPath();
    for (let v = yTickStep / 2; v < ys.max; v += yTickStep) {
      const py = Math.round(ys.getPixelForValue(v)) + 0.5;
      ctx.moveTo(a.left - 17, py);
      ctx.lineTo(a.left, py);
    }
    ctx.stroke();

    // 2θ ticks: every degree, longer at 5° and 10°
    ctx.lineWidth = 1;
    ctx.beginPath();
    for (let t = xs.min; t <= xs.max; t++) {
      const px = Math.round(xs.getPixelForValue(t)) + 0.5;
      const len = t % 10 === 0 ? 26 : (t % 5 === 0 ? 21 : 13);
      ctx.moveTo(px, a.bottom);
      ctx.lineTo(px, a.bottom + len);
    }
    ctx.stroke();

    // axis lines
    ctx.strokeStyle = '#555';
    ctx.lineWidth = 2;
    ctx.beginPath();
    ctx.moveTo(a.left, a.top - 3);
    ctx.lineTo(a.left, a.bottom + 13);
    ctx.moveTo(a.left - 27, a.bottom);
    ctx.lineTo(a.right, a.bottom);
    ctx.stroke();
    ctx.fillStyle = '#111';
    ctx.beginPath();
    ctx.moveTo(a.left - 1, a.top - 4);
    ctx.lineTo(a.left + 5, a.top + 10);
    ctx.lineTo(a.left - 1, a.top + 10);
    ctx.closePath();
    ctx.fill();
    ctx.beginPath();
    ctx.moveTo(a.right + 1, a.bottom - 1);
    ctx.lineTo(a.right - 10, a.bottom - 5);
    ctx.lineTo(a.right - 10, a.bottom + 1);
    ctx.closePath();
    ctx.fill();

    // reflection markers
    ctx.strokeStyle = '#111';
    ctx.lineWidth = 1.3;
    markLabels.forEach((lab, k) => {
      const px = Math.round(xs.getPixelForValue(markAngles[k])) + 0.5;
      const y0 = ys.getPixelForValue(markFrom[k]);
      const y1 = ys.getPixelForValue(markTo[k]);
      ctx.beginPath();
      ctx.moveTo(px, y0);
      ctx.lineTo(px, y1);
      ctx.moveTo(px - 5.5, y1 - 12);
      ctx.lineTo(px, y1);
      ctx.lineTo(px + 5.5, y1 - 12);
      ctx.stroke();
      if (lab === 'C+I') {
        ctx.beginPath();
        ctx.moveTo(px, y0);
        ctx.lineTo(px + 78, y0);
        ctx.stroke();
        wideText(ctx, lab, px + 1, y0 - 2, 44, 0, 'left');
      } else {
        const dy = lab === 'H' ? 17 : 6;
        wideText(ctx, lab, px - 9, y0 + dy, 48, -Math.PI / 2, 'center');
      }
    });

    // titles
    wideText(ctx, titleText, 20, 15, 49, 0, 'left');
    wideText(ctx, yTitleText, 41, (a.top + a.bottom) / 2, 44, -Math.PI / 2, 'center');
    ctx.restore();
  }
};

new Chart(document.getElementById('xrd'), {
  type: 'line',
  data: { datasets },
  options: {
    responsive: false,
    animation: false,
    devicePixelRatio: 1,
    layout: { padding: { top: 13, right: 2, left: 0, bottom: 0 } },
    plugins: { legend: { display: false }, tooltip: { enabled: false } },
    scales: {
      x: {
        type: 'linear',
        min: 11,
        max: 30,
        afterFit(s) { s.height = 75; s.paddingLeft = 0; s.paddingRight = 0; },
        grid: { display: false, drawTicks: false },
        border: { display: false },
        ticks: {
          stepSize: 1,
          autoSkip: false,
          maxRotation: 0,
          padding: 49,
          font: { size: 26 },
          color: '#000',
          callback: v => xTickLabels.includes(v) ? String(v) : ''
        }
      },
      y: {
        min: 0,
        max: 2000,
        afterFit(s) { s.width = 162; s.paddingTop = 0; s.paddingBottom = 0; },
        grid: { display: true, drawOnChartArea: false, drawTicks: true, tickLength: 27, tickColor: '#333', tickWidth: 1.5 },
        border: { display: false },
        ticks: {
          stepSize: yTickStep,
          padding: 17,
          labelOffset: 6,
          crossAlign: 'center',
          font: { size: 27 },
          color: '#000',
          callback: v => String(v)
        }
      }
    }
  },
  plugins: [frame]
});
</script>
</body>
</html>
